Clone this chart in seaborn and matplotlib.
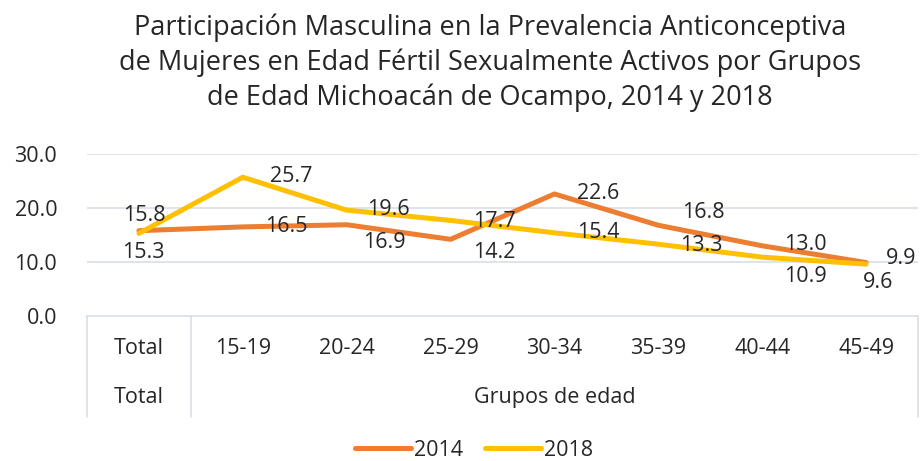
import pandas as pd
import matplotlib
matplotlib.use('Agg')
import matplotlib.pyplot as plt
import seaborn as sns

# Data
grupos = ['Total', '15-19', '20-24', '25-29', '30-34', '35-39', '40-44', '45-49']
v2014 = [15.8, 16.5, 16.9, 14.2, 22.6, 16.8, 13.0, 9.9]
v2018 = [15.3, 25.7, 19.6, 17.7, 15.4, 13.3, 10.9, 9.6]
anios = ['2014', '2018']
colores = {'2014': '#ED7D31', '2018': '#FFC000'}

# label offsets in pixels (dx, dy) - dy positive = up
off2014 = [(5, 15), (43, 0), (38, -18), (44, -13), (44, 0), (45, 13), (43, 1), (35, 4)]
off2018 = [(4, -19), (48, 1), (42, 1), (44, -1), (44, 0), (43, -1), (43, -19), (12, -18)]

df = pd.DataFrame({
    'grupo': grupos * 2,
    'x': list(range(len(grupos))) * 2,
    'valor': v2014 + v2018,
    'anio': ['2014'] * len(grupos) + ['2018'] * len(grupos),
})

sns.set_style('white')
plt.rcParams['font.family'] = ['Open Sans', 'DejaVu Sans']
txt = '#262626'
fs = 15.5

W, H = 923, 461
fig = plt.figure(figsize=(W / 100, H / 100), dpi=100)
ax = fig.add_axes([87 / W, 1 - 316 / H, (918 - 87) / W, (316 - 154) / H])

sns.lineplot(data=df, x='x', y='valor', hue='anio', hue_order=anios,
             palette=colores, linewidth=3.6, ax=ax, legend=False, zorder=3)

ax.set_xlim(-0.5, len(grupos) - 0.5)
ax.set_ylim(0, 30)
ax.set_yticks([0, 10, 20, 30])
ax.set_yticklabels([f'{t:.1f}' for t in [0, 10, 20, 30]], fontsize=fs, color=txt)
ax.tick_params(axis='y', length=0, pad=21.5)
ax.set_xticks([])
ax.set_xlabel('')
ax.set_ylabel('')
for t in [10, 20, 30]:
    ax.axhline(t, color='#D9DEE6', linewidth=1.2, zorder=1)
for s in ax.spines.values():
    s.set_visible(False)

# data labels
for vals, offs in [(v2014, off2014), (v2018, off2018)]:
    for i, (v, (dx, dy)) in enumerate(zip(vals, offs)):
        ax.annotate(f'{v:.1f}', (i, v), xytext=(dx, dy), textcoords='offset pixels',
                    ha='center', va='center', fontsize=fs, color=txt, zorder=5)

# category table below the plot
bc = '#D9DEE6'
fig.add_artist(plt.Line2D([87 / W, 918 / W], [1 - 316 / H] * 2, color=bc, lw=1.2))
for xp in [87, 191, 918]:
    fig.add_artist(plt.Line2D([xp / W] * 2, [1 - 316 / H, 1 - 417 / H], color=bc, lw=1.2))

trans = ax.get_xaxis_transform()
for i, g in enumerate(grupos):
    ax.text(i, -(348 - 316) / (316 - 154), g, transform=trans, ha='center', va='center',
            fontsize=fs, color=txt)
ax.text(0, -(397 - 316) / (316 - 154), 'Total', transform=trans, ha='center', va='center',
        fontsize=fs, color=txt)
fig.text(555 / W, 1 - 397 / H, 'Grupos de edad', ha='center', va='center',
         fontsize=fs, color=txt)

# title
fig.text(490 / W, 1 - 63 / H,
         'Participación Masculina en la Prevalencia Anticonceptiva\n'
         'de Mujeres en Edad Fértil Sexualmente Activos por Grupos\n'
         'de Edad Michoacán de Ocampo, 2014 y 2018',
         ha='center', va='center', fontsize=19.5, color=txt, linespacing=1.3)

# legend
handles = [plt.Line2D([], [], color=colores[a], lw=3.6) for a in anios]
fig.legend(handles, anios, loc='center', bbox_to_anchor=(474 / W, 1 - 450 / H), ncol=2,
           frameon=False, fontsize=fs, handlelength=2.6, handletextpad=0.15, columnspacing=1.0,
           labelcolor=txt, borderpad=0, borderaxespad=0)

fig.savefig('out.png', dpi=100)
